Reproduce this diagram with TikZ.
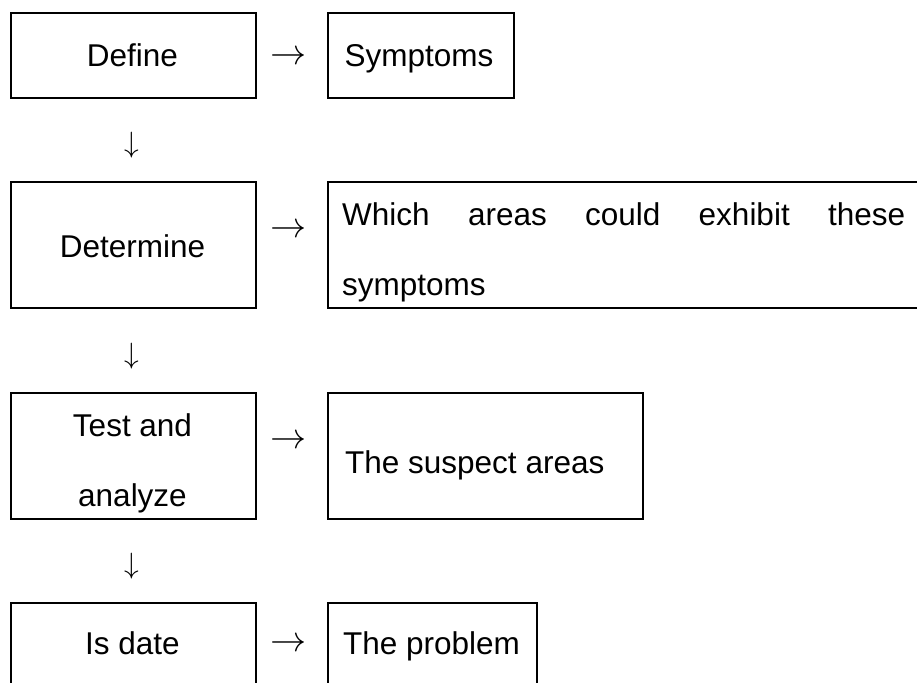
\documentclass[tikz,border=0pt]{standalone}
\usepackage{graphicx}
\usepackage{fontspec}
\setmainfont{Liberation Sans}
\begin{document}
\begin{tikzpicture}[x=1pt,y=-1pt,
  box/.style={draw,line width=1.8pt,inner sep=0pt,anchor=north west},
  txt/.style={font=\fontsize{31.5}{48}\selectfont,inner sep=0pt,anchor=base},
  rarr/.style={font=\fontsize{34}{40}\selectfont,inner sep=0pt},
  darr/.style={font=\fontsize{34}{40}\selectfont,inner sep=0pt}]
\useasboundingbox (0,0) rectangle (917,682);
\clip (0,0) rectangle (917,682);
% boxes
\node[box,minimum width=245pt,minimum height=85pt]  (b1l) at (10,12) {};
\node[box,minimum width=186pt,minimum height=85pt]  (b1r) at (327,12) {};
\node[box,minimum width=245pt,minimum height=126pt] (b2l) at (10,181) {};
\node[box,minimum width=620pt,minimum height=126pt] (b2r) at (327,181) {};
\node[box,minimum width=245pt,minimum height=126pt] (b3l) at (10,392) {};
\node[box,minimum width=315pt,minimum height=126pt] (b3r) at (327,392) {};
\node[box,minimum width=245pt,minimum height=85pt]  (b4l) at (10,602) {};
\node[box,minimum width=209pt,minimum height=85pt]  (b4r) at (327,602) {};
% texts
\node[txt] (t1l) at (132.5,67) {Define};
\node[txt] (t1r) at (419,67) {Symptoms};
\node[txt] (t2l) at (132.5,257) {Determine};
\node[txt,anchor=base west] (t2r) at (342,225) {\makebox[563pt][s]{Which\hfill areas\hfill could\hfill exhibit\hfill these}};
\node[txt,anchor=base west] (t2s) at (342,295) {symptoms};
\node[txt] (t3l) at (132.5,436) {Test and};
\node[txt] (t3m) at (132.5,506) {analyze};
\node[txt,anchor=base west] (t3r) at (345,473) {The suspect areas};
\node[txt] (t4l) at (132.5,654) {Is date};
\node[txt,anchor=base west] (t4r) at (343,654) {The problem};
% arrows
\node[rarr] (a1) at (288.5,58) {\scalebox{1.45}{$\rightarrow$}};
\node[rarr] (a2) at (288.5,231) {\scalebox{1.45}{$\rightarrow$}};
\node[rarr] (a3) at (288.5,442) {\scalebox{1.45}{$\rightarrow$}};
\node[rarr] (a4) at (288.5,645) {\scalebox{1.45}{$\rightarrow$}};
\node[darr] (d1) at (132,145) {\scalebox{1.18}{$\downarrow$}};
\node[darr] (d2) at (132,356) {\scalebox{1.18}{$\downarrow$}};
\node[darr] (d3) at (132,566) {\scalebox{1.18}{$\downarrow$}};
\end{tikzpicture}
\end{document}
